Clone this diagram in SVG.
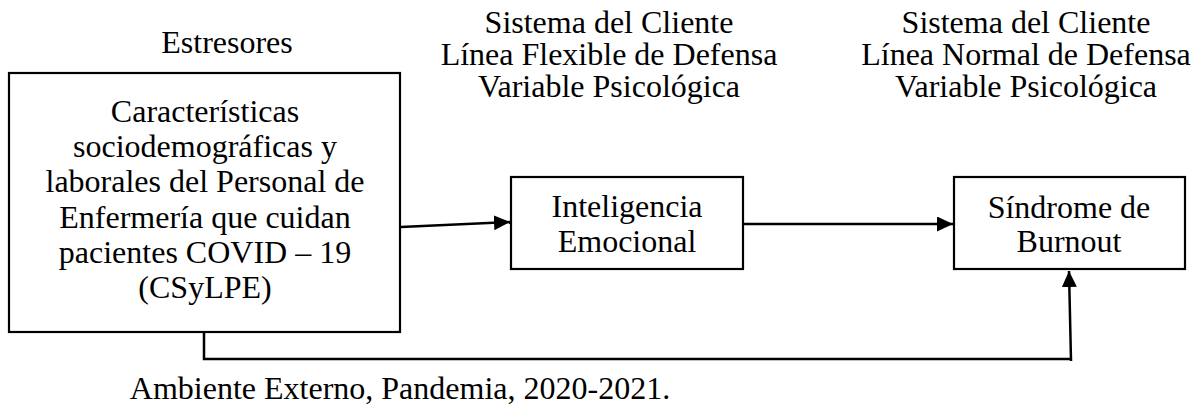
<svg xmlns="http://www.w3.org/2000/svg" width="1203" height="405" viewBox="0 0 1203 405">
<style>
  text { font-family: "Liberation Serif", "Times New Roman", serif; font-size: 32px; fill: #000; text-anchor: middle; }
  .box { fill: #fff; stroke: #000; stroke-width: 2.2; }
  .conn { fill: none; stroke: #000; stroke-width: 2.5; }
</style>
<defs>
  <marker id="arrow" markerUnits="userSpaceOnUse" markerWidth="17" markerHeight="15" refX="16" refY="7.5" orient="auto">
    <path d="M0,0 L16,7.5 L0,15 z" fill="#000"/>
  </marker>
</defs>
<rect width="1203" height="405" fill="#fff"/>

<g id="labels">
  <text x="227" y="53">Estresores</text>
  <text x="609" y="33">Sistema del Cliente<tspan x="609" dy="32">Línea Flexible de Defensa</tspan><tspan x="609" dy="32">Variable Psicológica</tspan></text>
  <text x="1026" y="33">Sistema del Cliente<tspan x="1026" dy="32">Línea Normal de Defensa</tspan><tspan x="1026" dy="32">Variable Psicológica</tspan></text>
  <text x="400" y="399">Ambiente Externo, Pandemia, 2020-2021.</text>
</g>

<g id="connectors">
  <line class="conn" x1="401" y1="227" x2="510" y2="222" marker-end="url(#arrow)"/>
  <line class="conn" x1="744" y1="224" x2="953" y2="224" marker-end="url(#arrow)"/>
  <polyline class="conn" points="204,333 204,359 1072,359"/>
  <line class="conn" x1="1071" y1="361" x2="1069" y2="271" marker-end="url(#arrow)"/>
</g>

<g id="node-estresores">
  <rect class="box" x="9" y="73" width="391" height="259"/>
  <text x="205" y="122">Características<tspan x="205" dy="35">sociodemográficas y</tspan><tspan x="205" dy="35">laborales del Personal de</tspan><tspan x="205" dy="36">Enfermería que cuidan</tspan><tspan x="205" dy="35">pacientes COVID – 19</tspan><tspan x="205" dy="35">(CSyLPE)</tspan></text>
</g>

<g id="node-inteligencia">
  <rect class="box" x="511" y="177" width="232" height="92"/>
  <text x="627" y="217">Inteligencia<tspan x="627" dy="35">Emocional</tspan></text>
</g>

<g id="node-burnout">
  <rect class="box" x="954" y="177" width="231" height="92"/>
  <text x="1069" y="218">Síndrome de<tspan x="1069" dy="34">Burnout</tspan></text>
</g>
</svg>
